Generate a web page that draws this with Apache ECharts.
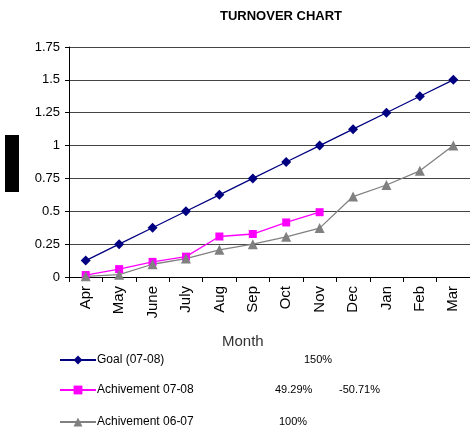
<!DOCTYPE html>
<html>
<head>
<meta charset="utf-8">
<script src="https://cdn.jsdelivr.net/npm/echarts@6/dist/echarts.min.js"></script>
<style>
    html, body { margin: 0; padding: 0; background: #fff; }
    #chart { width: 470px; height: 428px; }
</style>
</head>
<body>
<div id="chart"></div>
<script>
const months = ['Apr', 'May', 'June', 'July', 'Aug', 'Sep', 'Oct', 'Nov', 'Dec', 'Jan', 'Feb', 'Mar']
const goal0708 = [0.125, 0.25, 0.375, 0.5, 0.625, 0.75, 0.875, 1.0, 1.125, 1.25, 1.375, 1.5]
const achieve0708 = [0.015, 0.06, 0.115, 0.155, 0.308, 0.327, 0.415, 0.493]
const achieve0607 = [0.005, 0.018, 0.097, 0.14, 0.207, 0.25, 0.306, 0.372, 0.612, 0.70, 0.808, 1.0]
const seriesNames = ['Goal (07-08)', 'Achivement 07-08', 'Achivement 06-07']
const percentNotes = [['150%'], ['49.29%', '-50.71%'], ['100%']]

const font = 'Liberation Sans, Arial, sans-serif'
const myChart = echarts.init(document.getElementById('chart'))

// 每个系列单独一个图例，方便逐行定位
const legendRow = (name, y) => ({
    orient: 'vertical',
    left: 59, top: y, padding: 0,
    itemWidth: 36, itemHeight: 11,
    textStyle: { fontSize: 12, fontFamily: font, color: '#000', padding: [0, 0, 0, -4] },
    data: [name]
})

// 图例旁边的百分比说明
const noteText = (text, x, y) => ({
    type: 'text', left: x, top: y,
    style: { text, font: '11px ' + font, fill: '#000' }
})

const option = {
    animation: false,
    title: {
        text: 'TURNOVER CHART',
        left: 220, top: 10, padding: 0,
        textStyle: { fontSize: 13, fontWeight: 'bold', fontFamily: font, color: '#000' }
    },
    grid: { left: 69, right: 0, top: 47, bottom: 151 },
    legend: [
        legendRow(seriesNames[0], 354),
        legendRow(seriesNames[1], 384),
        legendRow(seriesNames[2], 416)
    ],
    xAxis: {
        type: 'category',
        data: months,
        boundaryGap: true,
        axisLine: { lineStyle: { color: '#000' } },
        axisTick: { show: true, length: 5, lineStyle: { color: '#000' } },
        axisLabel: { rotate: 90, fontSize: 15, fontFamily: font, color: '#000', margin: 9 }
    },
    yAxis: {
        type: 'value',
        min: 0, max: 1.75, interval: 0.25,
        axisLine: { show: true, lineStyle: { color: '#000' } },
        axisTick: { show: true, length: 4, lineStyle: { color: '#000' } },
        axisLabel: { fontSize: 13, fontFamily: font, color: '#000', margin: 9 },
        splitLine: { lineStyle: { color: '#444', width: 1 } }
    },
    series: [
        {
            name: seriesNames[0], type: 'line', data: goal0708,
            symbol: 'diamond', symbolSize: 10,
            itemStyle: { color: '#000080' }, lineStyle: { color: '#000080', width: 1.3 }
        },
        {
            name: seriesNames[1], type: 'line', data: achieve0708,
            symbol: 'rect', symbolSize: 8,
            itemStyle: { color: '#ff00ff' }, lineStyle: { color: '#ff00ff', width: 1.3 }
        },
        {
            name: seriesNames[2], type: 'line', data: achieve0607,
            symbol: 'triangle', symbolSize: 10,
            itemStyle: { color: '#808080' }, lineStyle: { color: '#808080', width: 1.3 }
        }
    ],
    graphic: [
        { type: 'rect', left: 5, top: 135, shape: { width: 14, height: 57 }, style: { fill: '#000' } },
        {
            type: 'text', left: 222, top: 334,
            style: { text: 'Month', font: '15px ' + font, fill: '#333' }
        },
        noteText(percentNotes[0][0], 304, 354),
        noteText(percentNotes[1][0], 275, 384),
        noteText(percentNotes[1][1], 339, 384),
        noteText(percentNotes[2][0], 279, 416)
    ]
}

myChart.setOption(option)
</script>
</body>
</html>
